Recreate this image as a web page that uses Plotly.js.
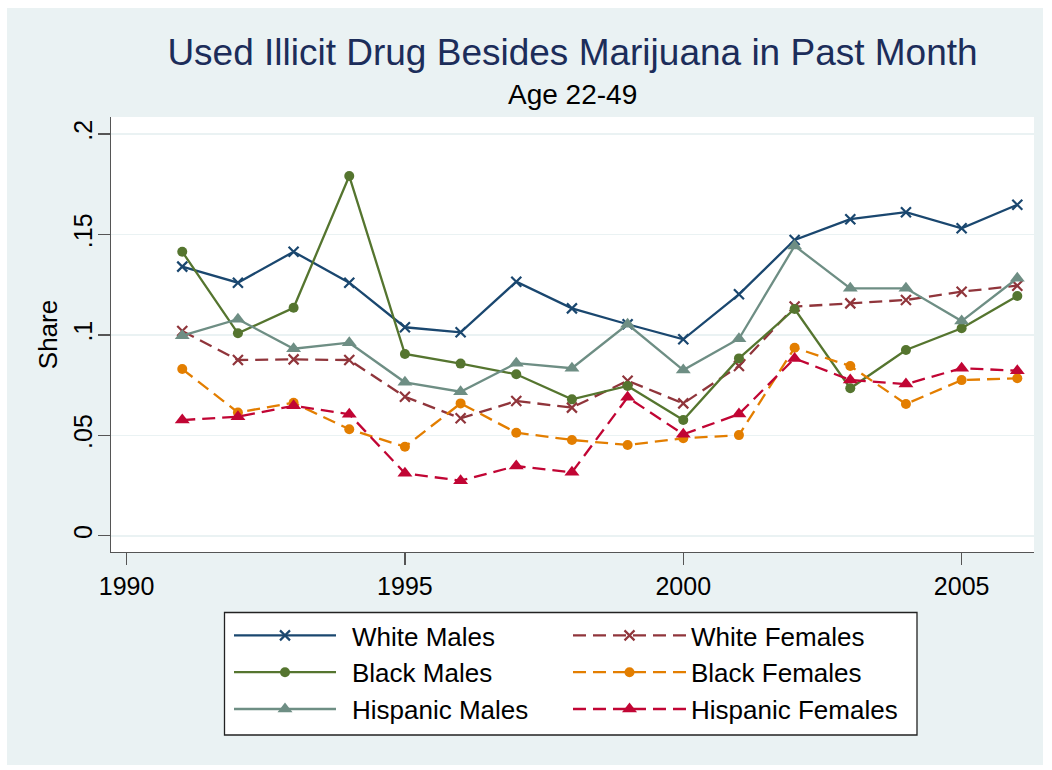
<!DOCTYPE html>
<html>
<head>
<meta charset="utf-8">
<script src="https://cdn.plot.ly/plotly-3.0.1.min.js"></script>
<style>html,body{margin:0;padding:0;background:#fff;}#chart{width:1052px;height:770px;}</style>
</head>
<body>
<div id="chart"></div>
<script>
// ---- Data ----
const years = [1991,1992,1993,1994,1995,1996,1997,1998,1999,2000,2001,2002,2003,2004,2005,2006];

const whiteMales      = [0.134,0.126,0.1414,0.126,0.1038,0.1013,0.1265,0.1132,0.1053,0.0978,0.1202,0.1473,0.1576,0.1611,0.1531,0.1648];
const whiteFemales    = [0.1019,0.0875,0.0878,0.0875,0.0692,0.0585,0.0671,0.0638,0.0772,0.0659,0.0845,0.1141,0.1157,0.1174,0.1215,0.1245];
const blackMales      = [0.1414,0.1008,0.1135,0.1791,0.0905,0.0857,0.0804,0.0679,0.0746,0.0576,0.0883,0.1129,0.0734,0.0925,0.1033,0.1194];
const blackFemales    = [0.083,0.0614,0.0662,0.053,0.0443,0.0659,0.0513,0.0477,0.0452,0.0485,0.0501,0.0936,0.0845,0.0656,0.0775,0.0784];
const hispanicMales   = [0.0996,0.1078,0.0931,0.0961,0.0764,0.0717,0.0859,0.0834,0.1053,0.0825,0.0981,0.1443,0.1232,0.1232,0.1069,0.1282];
const hispanicFemales = [0.0576,0.0593,0.0647,0.0605,0.0311,0.0274,0.0347,0.0316,0.0689,0.0505,0.0606,0.0883,0.0775,0.0755,0.0834,0.0822];

const seriesNames = ["White Males","White Females","Black Males","Black Females","Hispanic Males","Hispanic Females"];

const yTickVals  = [0,0.05,0.1,0.15,0.2];
const yTickText  = ["0",".05",".1",".15",".2"];
const xTickVals  = [1990,1995,2000,2005];
const xTickText  = ["1990","1995","2000","2005"];

const chartTitle = "Used Illicit Drug Besides Marijuana in Past Month";
const chartSubtitle = "Age 22-49";
const yTitle = "Share";

// ---- Layout helpers ----
const W = 1052, H = 770;
const M = {l:111, r:18, t:117, b:218};
const PW = W - M.l - M.r, PH = H - M.t - M.b;
const px = v => (v - M.l) / PW;          // pixel x -> paper x
const py = v => (H - M.b - v) / PH;      // pixel y -> paper y

const FONT = "Liberation Sans, Arial, Helvetica, sans-serif";

function tr(name, y, color, dash, symbol, size, legend) {
  const isX = symbol === 'x-thin';
  return {
    type:'scatter', mode:'lines+markers', name:name, x:years, y:y,
    legend: legend,
    line:{color:color, width:2.3, dash:dash},
    marker: isX ? {symbol:'x-thin', size:size, color:color, line:{color:color, width:2.2}}
                : {symbol:symbol, size:size, color:color, line:{width:0}},
    hoverinfo:'x+y+name'
  };
}

const DASH = '13px,7px';
const data = [
  tr(seriesNames[0], whiteMales,      '#1a476f', 'solid', 'x-thin',      10, 'legend'),
  tr(seriesNames[1], whiteFemales,    '#90353b', DASH,    'x-thin',      10, 'legend2'),
  tr(seriesNames[2], blackMales,      '#55752f', 'solid', 'circle',      10, 'legend'),
  tr(seriesNames[3], blackFemales,    '#e37e00', DASH,    'circle',      10, 'legend2'),
  tr(seriesNames[4], hispanicMales,   '#6e8e84', 'solid', 'triangle-up', 13, 'legend'),
  tr(seriesNames[5], hispanicFemales, '#c10534', DASH,    'triangle-up', 13, 'legend2')
];

const legendCommon = {
  bgcolor:'rgba(0,0,0,0)', borderwidth:0, orientation:'v',
  font:{family:FONT, size:26, color:'#000'},
  itemwidth:113, traceorder:'normal', tracegroupgap:0,
  xanchor:'left', yanchor:'top', itemclick:false, itemdoubleclick:false
};

const layout = {
  width:W, height:H,
  margin:M,
  paper_bgcolor:'#ffffff',
  plot_bgcolor:'#ffffff',
  font:{family:FONT, color:'#000'},
  title:{
    text:chartTitle,
    font:{family:FONT, size:37, color:'#1c2d5a'},
    x:0.5, xref:'paper', xanchor:'center',
    y:1 - 52/H, yref:'container', yanchor:'middle'
  },
  annotations:[{
    text:chartSubtitle, xref:'paper', yref:'paper',
    x:0.5, y:py(95), xanchor:'center', yanchor:'middle',
    showarrow:false, font:{family:FONT, size:28, color:'#000'}
  }],
  xaxis:{
    range:[1989.72, 2006.3],
    tickmode:'array', tickvals:xTickVals, ticktext:xTickText,
    ticks:'outside', ticklen:12, tickwidth:1.3, tickcolor:'#555',
    showline:true, linecolor:'#555', linewidth:1.3,
    showgrid:false, zeroline:false,
    tickfont:{family:FONT, size:25, color:'#000'}
  },
  yaxis:{
    range:[-0.0081, 0.2085],
    tickmode:'array', tickvals:yTickVals, ticktext:yTickText,
    ticks:'outside', ticklen:12, tickwidth:1.3, tickcolor:'#555',
    tickangle:-90, ticklabelstandoff:-4,
    showline:true, linecolor:'#555', linewidth:1.3,
    showgrid:true, gridcolor:'#eaf2f3', gridwidth:1.6,
    zeroline:false,
    tickfont:{family:FONT, size:25, color:'#000'},
    title:{text:yTitle, font:{family:FONT, size:26, color:'#000'}, standoff:3}
  },
  shapes:[
    {type:'rect', xref:'paper', yref:'paper', layer:'below',
     x0:px(7), x1:px(1043), y0:py(765), y1:py(8),
     fillcolor:'#eaf2f3', line:{width:0}},
    {type:'rect', xref:'paper', yref:'paper', layer:'below',
     x0:0, x1:1, y0:0, y1:1, fillcolor:'#ffffff', line:{width:0}},
    {type:'rect', xref:'paper', yref:'paper', layer:'above',
     x0:px(224.5), x1:px(917), y0:py(735), y1:py(612.5),
     fillcolor:'#ffffff', line:{color:'#222', width:1.3}}
  ],
  legend:Object.assign({}, legendCommon, {x:px(229), y:py(612)}),
  legend2:Object.assign({}, legendCommon, {x:px(568), y:py(612)}),
  showlegend:true
};

Plotly.newPlot('chart', data, layout, {displayModeBar:false, staticPlot:true}).then(function(gd){
  // lengthen legend sample lines to match the reference's long legend keys
  const LEN = 102;
  gd.querySelectorAll('.legend .traces').forEach(function(t){
    t.querySelectorAll('path.js-line').forEach(function(p){ p.setAttribute('d','M5,0h'+LEN); });
    t.querySelectorAll('.legendpoints path.scatterpts').forEach(function(p){
      p.setAttribute('transform','translate('+(5+LEN/2)+',0)');
    });
  });
});
</script>
</body>
</html>
